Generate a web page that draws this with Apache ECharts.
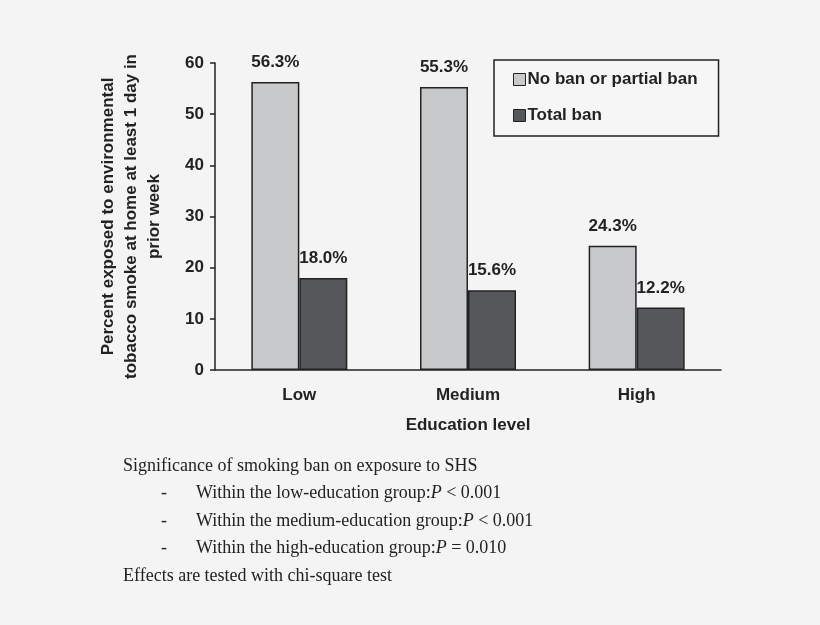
<!DOCTYPE html>
<html>
<head>
<meta charset="utf-8">
<script src="https://cdn.jsdelivr.net/npm/echarts@6/dist/echarts.min.js"></script>
<style>
  html, body { margin: 0; padding: 0; background: #f4f4f4; }
  #main { width: 820px; height: 625px; }
</style>
</head>
<body>
<div id="main"></div>
<script>
// education groups and exposure percentages
var categories = ['Low', 'Medium', 'High'];
var noBan = [56.3, 55.3, 24.3];
var totalBan = [18.0, 15.6, 12.2];
var seriesNames = ['No ban or partial ban', 'Total ban'];
var notes = [
    'Significance of smoking ban on exposure to SHS',
    '-\t{t|Within the low-education group:}{i|P}{t| < 0.001}',
    '-\t{t|Within the medium-education group:}{i|P}{t| < 0.001}',
    '-\t{t|Within the high-education group:}{i|P}{t| = 0.010}',
    'Effects are tested with chi-square test'
];

var ink = '#222';
var sans = 'Liberation Sans, Arial, sans-serif';
var serif = 'Liberation Serif, Times New Roman, serif';

var chart = echarts.init(document.getElementById('main'));

var labelStyle = {
    show: true,
    position: 'top',
    distance: 11,
    color: ink,
    fontFamily: sans,
    fontWeight: 'bold',
    fontSize: 17,
    formatter: function (p) { return p.value.toFixed(1) + '%'; }
};

// note lines drawn as plain text below the chart
var noteGraphics = [];
for (var i = 0; i < notes.length; i++) {
    var isItem = notes[i].charAt(0) === '-';
    noteGraphics.push({
        type: 'text',
        left: isItem ? 196 : 123,
        top: 457 + i * 27.5,
        style: {
            text: isItem ? notes[i].replace('-\t', '') : notes[i],
            fill: ink,
            font: '18px ' + serif,
            rich: {
                t: { fontFamily: serif, fontSize: 18, fill: ink },
                i: { fontFamily: serif, fontSize: 18, fontStyle: 'italic', fill: ink }
            }
        }
    });
    if (isItem) {
        noteGraphics.push({
            type: 'text',
            left: 161,
            top: 457 + i * 27.5,
            style: { text: '-', fill: ink, font: '18px ' + serif }
        });
    }
}

var option = {
    backgroundColor: '#f4f4f4',
    animation: false,
    grid: { left: 215, right: 99, top: 63, bottom: 255, containLabel: false },
    legend: {
        orient: 'vertical',
        left: 494,
        top: 60,
        padding: [11, 21, 12, 19],
        itemWidth: 12,
        itemHeight: 12,
        itemGap: 19,
        icon: 'rect',
        borderColor: ink,
        borderWidth: 1.5,
        borderRadius: 0,
        backgroundColor: '#f6f6f6',
        data: seriesNames,
        textStyle: { color: ink, fontFamily: sans, fontWeight: 'bold', fontSize: 17, padding: [0, 0, 0, -3] },
        itemStyle: { borderColor: ink, borderWidth: 1 }
    },
    xAxis: {
        type: 'category',
        data: categories,
        name: 'Education level',
        nameLocation: 'middle',
        nameGap: 47,
        nameTextStyle: { color: ink, fontFamily: sans, fontWeight: 'bold', fontSize: 17 },
        axisLine: { lineStyle: { color: ink, width: 1.5 } },
        axisTick: { length: 5, lineStyle: { color: ink, width: 1.5 } },
        axisLabel: { color: ink, fontFamily: sans, fontWeight: 'bold', fontSize: 17, margin: 17 }
    },
    yAxis: {
        type: 'value',
        min: 0,
        max: 60,
        interval: 10,
        name: 'Percent exposed to environmental\ntobacco smoke at home at least 1 day in\nprior week',
        nameLocation: 'middle',
        nameGap: 49,
        nameTextStyle: { color: ink, fontFamily: sans, fontWeight: 'bold', fontSize: 17, lineHeight: 23 },
        axisLine: { show: true, lineStyle: { color: ink, width: 1.5 } },
        axisTick: { show: true, length: 5, lineStyle: { color: ink, width: 1.5 } },
        axisLabel: { color: ink, fontFamily: sans, fontWeight: 'bold', fontSize: 17, margin: 11 },
        splitLine: { show: false }
    },
    series: [
        {
            name: seriesNames[0],
            type: 'bar',
            data: noBan,
            barWidth: 48,
            barGap: '0%',
            itemStyle: { color: '#c8c9cb', borderColor: ink, borderWidth: 1.5 },
            label: labelStyle
        },
        {
            name: seriesNames[1],
            type: 'bar',
            data: totalBan,
            barWidth: 48,
            itemStyle: { color: '#55575a', borderColor: ink, borderWidth: 1.5 },
            label: labelStyle
        }
    ],
    graphic: noteGraphics
};

chart.setOption(option);
</script>
</body>
</html>
